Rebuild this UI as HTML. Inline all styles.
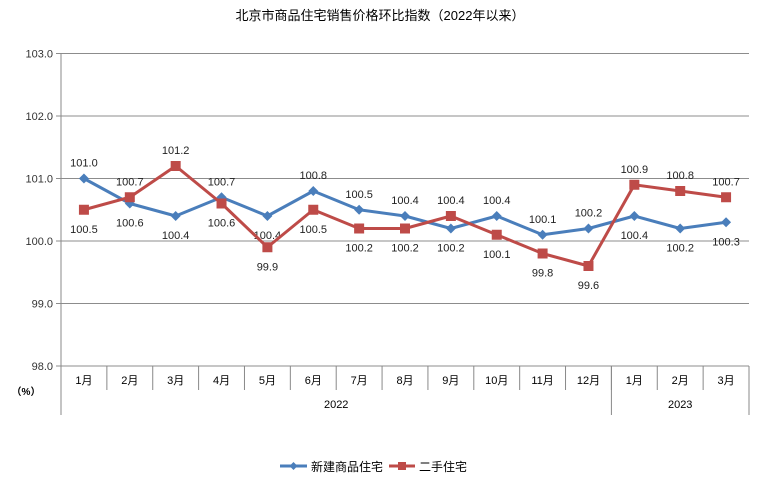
<!DOCTYPE html>
<html><head><meta charset="utf-8"><style>
body{margin:0;background:#fff}
svg text{font-family:"Liberation Sans","Noto Sans CJK SC",sans-serif}
</style></head><body>
<svg id="c" width="759" height="484" xmlns="http://www.w3.org/2000/svg">
<text x="380" y="20" text-anchor="middle" font-size="13" fill="#000">北京市商品住宅销售价格环比指数（2022年以来）</text>
<g id="grid"></g><g id="axes"></g><g id="series"></g>
<g>
<g><line x1="280" y1="466" x2="307" y2="466" stroke="#4a7ebb" stroke-width="3"/><path d="M293.5 462 L297.5 466 L293.5 470 L289.5 466Z" fill="#4a7ebb"/><text x="311" y="471" font-size="12" fill="#000">新建商品住宅</text></g>
<g><line x1="389" y1="466" x2="415" y2="466" stroke="#be4b48" stroke-width="3"/><rect x="398" y="462" width="8" height="8" fill="#be4b48"/><text x="419" y="471" font-size="12" fill="#000">二手住宅</text></g>
</g>
</svg>
<script>
const categories=["1月","2月","3月","4月","5月","6月","7月","8月","9月","10月","11月","12月","1月","2月","3月"];
const years=["2022","2023"];
const yearCounts=[12,3];
const newHomes=[101.0,100.6,100.4,100.7,100.4,100.8,100.5,100.4,100.2,100.4,100.1,100.2,100.4,100.2,100.3];
const secondHomes=[100.5,100.7,101.2,100.6,99.9,100.5,100.2,100.2,100.4,100.1,99.8,99.6,100.9,100.8,100.7];
const yTicks=[98.0,99.0,100.0,101.0,102.0,103.0];
const newLabelSide=[1,-1,-1,1,-1,1,1,1,-1,1,1,1,-1,-1,-1];
const secondLabelSide=[-1,1,1,-1,-1,-1,-1,-1,1,-1,-1,-1,1,1,1];
const NS="http://www.w3.org/2000/svg";
const L=61,R=749,T=53.5,B=366,yMin=98,yMax=103;
const bw=(R-L)/categories.length;
const xs=i=>L+(i+0.5)*bw;
const ys=v=>B-(v-yMin)/(yMax-yMin)*(B-T);
function mk(p,tag,at){const e=document.createElementNS(NS,tag);for(const k in at)e.setAttribute(k,at[k]);p.appendChild(e);return e;}
const grid=document.getElementById('grid'),axes=document.getElementById('axes'),ser=document.getElementById('series');
yTicks.forEach(v=>{
 const l=mk(grid,'line',{x1:L-5,x2:R,y1:ys(v),y2:ys(v),stroke:'#8c8c8c','stroke-width':1});
 
 
 const t=mk(axes,'text',{x:L-8,y:ys(v)+4,'text-anchor':'end','font-size':11,fill:'#333'});
 t.textContent=v.toFixed(1);
 
 
});
mk(axes,'line',{x1:L,x2:L,y1:T,y2:415,stroke:'#888'});
mk(axes,'line',{x1:R,x2:R,y1:B,y2:415,stroke:'#888'});
const pct=mk(axes,'text',{x:26,y:395,'text-anchor':'middle','font-size':10,'font-weight':'bold',fill:'#000'});
pct.textContent='（%）';


categories.forEach((c,i)=>{
 if(i>0){mk(axes,'line',{x1:L+i*bw,x2:L+i*bw,y1:B,y2:390,stroke:'#888'});}
 const t=mk(axes,'text',{x:xs(i),y:384,'text-anchor':'middle','font-size':11,fill:'#000'});
 t.textContent=c;
 
 
});
let start=0;
years.forEach((y,k)=>{
 const end=start+yearCounts[k];
 if(k>0)mk(axes,'line',{x1:L+start*bw,x2:L+start*bw,y1:B,y2:415,stroke:'#888'});
 const t=mk(axes,'text',{x:L+(start+end)/2*bw,y:408,'text-anchor':'middle','font-size':11,fill:'#000'});
 t.textContent=y;
 
 
 start=end;
});
function draw(vals,sides,color,shape,name){
 const g=mk(ser,'g',{});
 
 
 mk(g,'polyline',{points:vals.map((v,i)=>xs(i)+','+ys(v)).join(' '),fill:'none',stroke:color,'stroke-width':3,'stroke-linejoin':'round'});
 vals.forEach((v,i)=>{
  const x=xs(i),y=ys(v);let m;
  if(shape==='d')m=mk(g,'path',{d:`M${x} ${y-5}L${x+5} ${y}L${x} ${y+5}L${x-5} ${y}Z`,fill:color});
  else m=mk(g,'rect',{x:x-5,y:y-5,width:10,height:10,fill:color});
  
  
  const t=mk(g,'text',{x:x,y:sides[i]>0?y-12:y+23,'text-anchor':'middle','font-size':11,fill:'#222'});
  t.textContent=v.toFixed(1);
  
  
 });
}
draw(newHomes,newLabelSide,'#4a7ebb','d','series-new-homes');
draw(secondHomes,secondLabelSide,'#be4b48','s','series-second-homes');
</script>
</body></html>
